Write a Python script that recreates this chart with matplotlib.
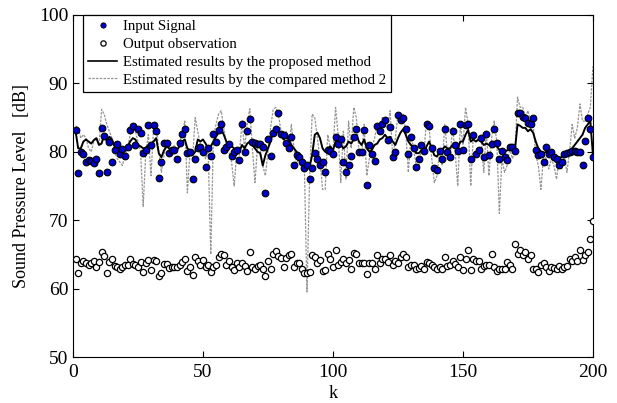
import numpy as np
import matplotlib
matplotlib.use("Agg")
import matplotlib.pyplot as plt

plt.rcParams['font.family'] = ['Liberation Serif', 'DejaVu Serif']

k = np.arange(1, 201)

input_signal = [
    83.2, 76.9, 80.0, 79.7, 78.5, 78.8, 78.6, 78.3, 78.9, 76.9,
    83.5, 82.3, 77.1, 81.5, 78.5, 80.2, 81.1, 79.7, 80.4, 79.4,
    80.7, 83.2, 83.8, 81.0, 83.4, 82.8, 79.8, 80.2, 83.9, 81.0,
    83.9, 83.0, 76.2, 78.5, 81.3, 81.3, 79.8, 80.3, 80.2, 79.0,
    81.3, 82.6, 83.3, 79.8, 79.9, 76.0, 79.0, 80.6, 80.7, 80.0,
    77.8, 80.5, 79.4, 82.6, 81.5, 83.2, 84.0, 80.3, 80.7, 81.1,
    79.4, 79.9, 80.2, 78.8, 84.1, 79.9, 83.0, 84.8, 81.5, 81.3,
    81.2, 81.1, 80.7, 74.0, 81.8, 79.4, 82.8, 83.4, 85.7, 82.6,
    82.4, 81.3, 80.6, 82.1, 78.0, 79.5, 79.3, 78.5, 77.6, 78.0,
    76.0, 77.7, 79.8, 78.9, 78.0, 78.5, 77.1, 80.3, 80.1, 79.7,
    82.1, 81.2, 81.8, 78.5, 77.1, 78.0, 79.4, 82.2, 83.4, 80.0,
    79.9, 83.2, 75.1, 81.0, 79.7, 78.7, 83.7, 83.1, 84.0, 84.7,
    81.7, 83.6, 79.3, 80.0, 85.4, 84.6, 85.0, 83.4, 79.7, 82.1,
    80.5, 77.8, 78.9, 81.0, 80.1, 84.1, 83.8, 80.5, 77.6, 77.3,
    80.1, 79.0, 83.3, 80.0, 79.2, 83.1, 81.0, 80.1, 84.0, 80.2,
    83.9, 84.1, 79.0, 82.4, 79.7, 80.2, 82.0, 79.2, 82.6, 79.5,
    81.2, 83.4, 81.3, 79.0, 80.1, 79.3, 78.8, 80.7, 80.7, 80.1,
    85.6, 85.7, 85.1, 84.9, 84.2, 84.1, 84.9, 80.2, 79.5, 79.7,
    78.5, 80.7, 79.7, 80.0, 79.3, 79.0, 78.0, 78.5, 79.7, 79.8,
    80.0, 80.1, 80.1, 80.0, 79.9, 78.0, 81.6, 84.9, 83.4, 79.2,
]

output_obs = [
    64.3, 62.3, 63.7, 64.1, 63.7, 63.5, 63.8, 64.1, 63.1, 63.9,
    65.4, 64.7, 62.3, 63.9, 64.4, 63.3, 63.1, 62.9, 63.2, 63.5,
    63.4, 64.4, 63.6, 63.4, 63.2, 63.9, 62.5, 63.7, 64.2, 62.7,
    64.2, 64.1, 61.8, 62.3, 63.6, 63.6, 63.0, 63.2, 63.2, 63.2,
    63.4, 63.9, 64.4, 62.6, 63.2, 62.0, 64.6, 64.0, 63.5, 64.2,
    63.1, 63.4, 62.4, 63.2, 63.5, 64.6, 65.0, 64.9, 63.5, 64.1,
    63.2, 62.7, 63.7, 63.2, 63.8, 63.3, 62.6, 65.4, 63.1, 62.8,
    63.3, 63.4, 62.8, 61.8, 64.0, 62.9, 65.0, 65.5, 64.7, 64.5,
    63.1, 64.5, 64.9, 65.1, 63.2, 63.8, 63.8, 62.9, 62.3, 62.3,
    62.4, 64.9, 64.6, 63.7, 64.2, 62.6, 62.7, 65.1, 64.4, 63.2,
    65.6, 63.4, 63.9, 64.4, 63.7, 64.2, 62.9, 65.2, 65.1, 63.7,
    63.7, 63.8, 62.1, 63.8, 63.8, 62.9, 64.9, 63.8, 64.4, 64.4,
    63.9, 64.9, 63.4, 64.1, 63.7, 64.6, 65.0, 64.6, 63.1, 63.5,
    63.5, 62.9, 63.0, 63.3, 62.9, 63.9, 63.7, 63.4, 63.2, 62.8,
    63.2, 62.8, 64.6, 63.3, 63.4, 64.0, 63.6, 63.2, 64.6, 62.7,
    64.4, 65.6, 62.7, 64.4, 64.0, 64.0, 62.8, 63.3, 63.4, 63.4,
    65.0, 63.1, 62.6, 62.8, 62.9, 62.8, 63.9, 63.4, 62.9, 66.5,
    65.1, 65.6, 64.9, 65.4, 64.4, 64.9, 62.9, 62.9, 62.5, 63.4,
    63.8, 63.2, 62.6, 63.2, 63.0, 62.8, 63.3, 62.8, 63.2, 63.3,
    64.4, 64.0, 64.6, 64.0, 65.7, 64.2, 64.9, 65.4, 67.2, 69.9,
]

proposed = [
    83.0, 80.5, 80.5, 81.5, 81.8, 81.5, 81.2, 81.7, 82.0, 81.0,
    81.2, 82.5, 81.5, 82.2, 81.8, 80.8, 80.5, 80.3, 80.3, 80.5,
    80.8, 81.5, 82.0, 81.8, 81.0, 80.8, 80.5, 80.6, 81.0, 81.2,
    81.5, 82.0, 79.8, 79.2, 80.2, 80.8, 80.5, 80.3, 80.5, 80.3,
    80.8, 81.5, 81.8, 80.5, 80.2, 79.5, 80.0, 81.8, 81.5, 81.8,
    81.2, 80.5, 80.8, 81.5, 82.2, 82.8, 83.3, 82.5, 81.5, 81.0,
    80.8, 80.5, 80.2, 80.0, 81.0, 80.5, 81.2, 81.5, 81.0, 80.5,
    80.0, 79.8, 78.0, 79.5, 80.5, 81.5, 83.0, 83.3, 83.0, 82.5,
    81.8, 82.2, 81.8, 81.0, 80.5, 80.0, 79.5, 79.0, 78.5, 78.0,
    77.8, 79.5, 82.5, 82.8, 82.0, 80.5, 80.0, 80.5, 80.8, 80.2,
    81.5, 81.8, 81.0, 80.5, 80.8, 81.5, 81.2, 81.8, 82.5, 81.5,
    81.0, 81.8, 80.5, 80.0, 80.3, 81.0, 81.2, 81.8, 82.0, 82.5,
    82.0, 82.2, 81.5, 81.0, 82.0, 82.8, 83.3, 82.5, 81.5, 81.0,
    80.5, 79.8, 79.8, 80.2, 80.0, 80.8, 81.5, 80.5, 79.5, 79.3,
    80.0, 80.2, 80.8, 80.5, 80.5, 81.0, 80.8, 80.5, 81.5, 81.5,
    82.5, 83.2, 81.5, 81.8, 81.5, 81.8, 81.5, 81.0, 81.2, 81.0,
    81.2, 81.5, 80.8, 80.3, 80.2, 80.0, 80.2, 80.8, 80.8, 80.3,
    84.0, 83.8, 83.5, 83.5, 83.0, 83.3, 82.8, 81.5, 80.5, 80.0,
    79.8, 80.0, 79.8, 79.5, 79.5, 79.2, 79.0, 79.3, 79.5, 79.5,
    79.8, 80.5, 81.0, 81.5, 82.0, 82.5, 83.5, 84.0, 84.5, 79.5,
]

compared2 = [
    83.8, 83.5, 82.0, 82.5, 82.0, 80.5, 80.0, 81.5, 82.0, 81.0,
    86.2, 85.5, 84.0, 83.0, 82.0, 80.0, 79.0, 78.5, 78.0, 79.5,
    80.5, 82.5, 84.0, 83.0, 81.5, 80.0, 72.0, 80.0, 82.5, 76.5,
    83.5, 84.0, 80.0, 77.0, 79.5, 81.0, 80.5, 80.0, 81.0, 80.0,
    81.5, 82.5, 84.5, 74.0, 80.0, 79.0, 85.0, 83.0, 81.0, 80.5,
    79.0, 80.0, 65.0, 82.0, 84.0, 85.5, 86.0, 83.5, 81.0, 80.0,
    78.5, 75.0, 80.0, 79.5, 84.5, 80.5, 84.0, 86.3, 80.5, 75.5,
    81.0, 80.5, 78.0, 76.5, 80.0, 83.5, 86.2, 86.5, 85.5, 83.0,
    82.0, 83.0, 80.5, 84.0, 80.5, 78.0, 79.5, 77.5, 78.0, 59.5,
    76.0, 85.5, 85.0, 82.0, 79.0, 74.5, 74.5, 82.5, 80.5, 80.0,
    86.5, 82.5, 75.5, 83.0, 76.0, 84.5, 80.5, 86.5, 85.0, 80.0,
    79.5, 84.0, 76.5, 79.0, 80.5, 82.0, 84.0, 83.0, 85.0, 84.0,
    83.5, 86.0, 79.0, 82.0, 85.5, 85.0, 85.5, 83.0, 77.0, 82.5,
    80.5, 78.0, 77.5, 81.0, 80.0, 84.5, 83.5, 79.0, 75.5, 76.5,
    80.0, 78.0, 84.0, 80.0, 79.0, 83.5, 80.0, 75.0, 84.0, 81.0,
    86.5, 84.0, 75.0, 82.5, 82.0, 81.5, 82.0, 77.0, 83.0, 76.5,
    82.0, 84.5, 81.5, 71.0, 79.0, 77.0, 78.0, 80.5, 79.0, 80.0,
    88.0, 86.5, 86.5, 85.0, 86.0, 84.5, 84.0, 79.5, 78.0, 74.5,
    79.5, 79.0, 77.5, 79.0, 78.0, 76.0, 79.0, 77.5, 79.5, 77.0,
    80.0, 84.0, 82.0, 83.5, 87.0, 84.5, 84.5, 85.5, 86.5, 92.5,
]

fig = plt.figure(figsize=(6.17, 4.03), dpi=100)
ax = fig.add_axes([0.1183, 0.1141, 0.8427, 0.8487])

ax.plot(k, compared2, color='#959595', linestyle='--', dashes=(2, 1), lw=0.9, zorder=2)
ax.plot(k, proposed, color='black', lw=1.4, zorder=3)
ax.plot(k, input_signal, 'o', ms=4.8, mfc='#0000cc', mec='black', mew=0.8, zorder=4)
ax.plot(k, output_obs, 'o', ms=4.5, mfc='white', mec='black', mew=0.9, zorder=4)

# legend handles in original order
h1, = ax.plot([], [], 'o', ms=3.8, mfc='#0000cc', mec='black', mew=0.6)
h2, = ax.plot([], [], 'o', ms=3.8, mfc='white', mec='black', mew=0.9)
h3, = ax.plot([], [], color='black', lw=1.2)
h4, = ax.plot([], [], color='#959595', linestyle='--', dashes=(2, 1), lw=0.9)
leg = ax.legend([h1, h2, h3, h4],
                ['Input Signal', 'Output observation',
                 'Estimated results by the proposed method',
                 'Estimated results by the compared method 2'],
                loc='upper left', bbox_to_anchor=(0.019, 1.0), fontsize=10.6,
                fancybox=False, framealpha=1, edgecolor='black',
                borderaxespad=0, handlelength=2.0, labelspacing=0.3,
                borderpad=0.35, handletextpad=0.35)
leg.get_frame().set_linewidth(0.9)

ax.set_xlim(0, 200)
ax.set_ylim(50, 100)
ax.set_xticks([0, 50, 100, 150, 200])
ax.set_yticks([50, 60, 70, 80, 90, 100])
ax.tick_params(direction='in', top=True, right=True, labelsize=14, length=4)
ax.tick_params(axis='x', pad=5)
ax.set_xlabel('k', fontsize=13, labelpad=3)
ax.set_ylabel('Sound Pressure Level   [dB]', fontsize=13, labelpad=6)

fig.savefig('out.png', dpi=100)
